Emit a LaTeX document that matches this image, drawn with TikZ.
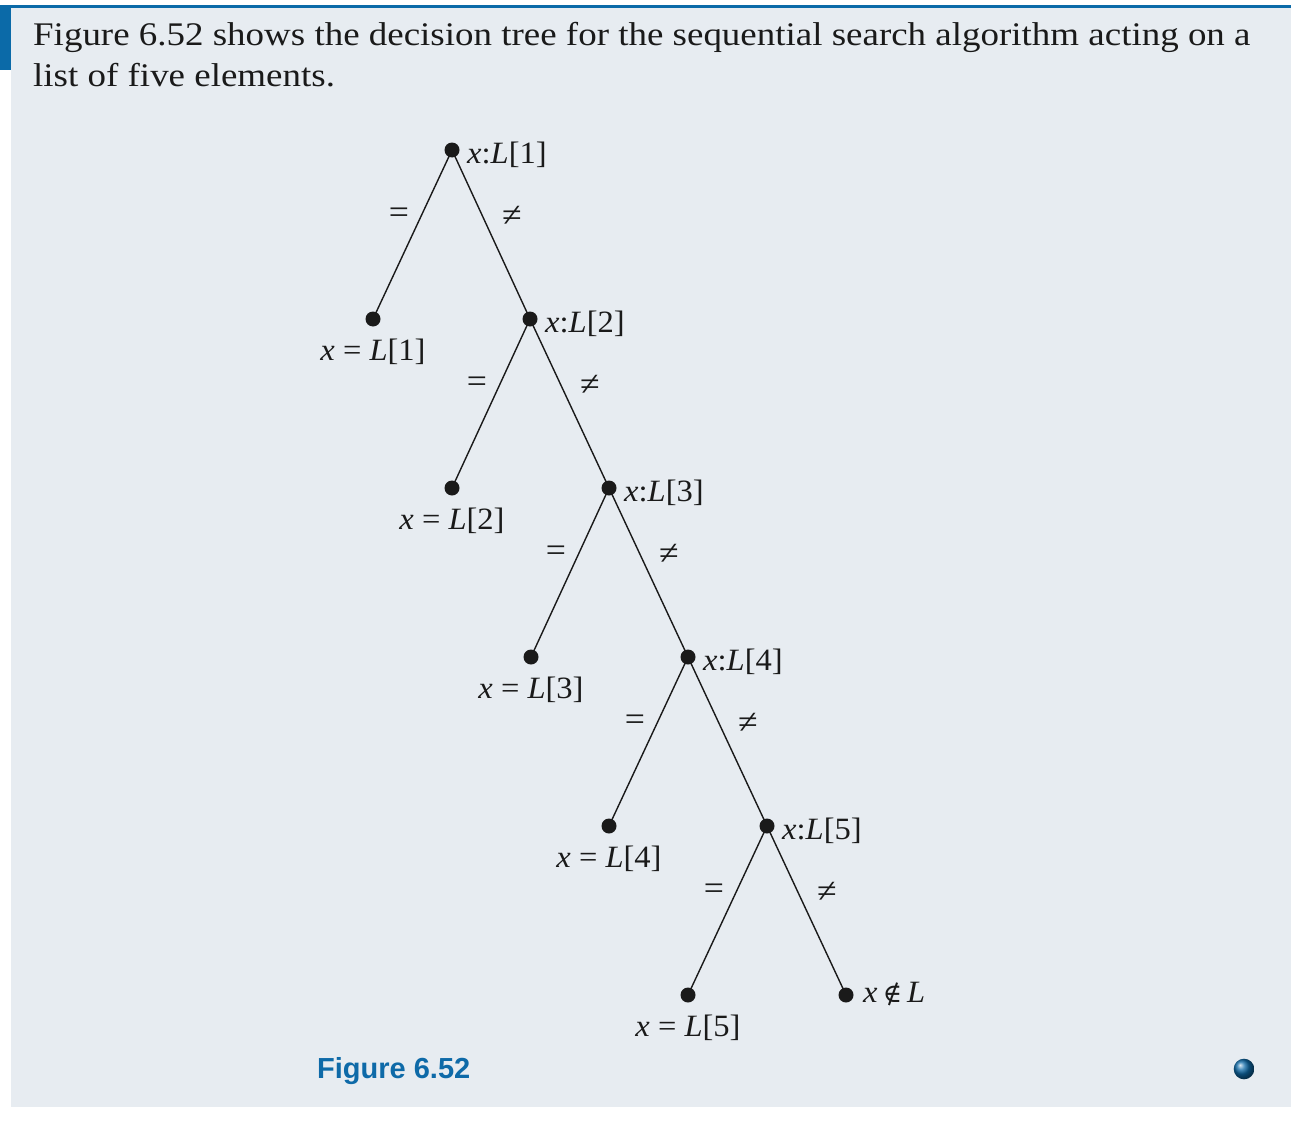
\documentclass[tikz,border=0pt]{standalone}
\usepackage{fontspec}
\setmainfont{Liberation Serif}
\newfontfamily\widefont[FakeStretch=1.12]{Liberation Serif}
\newfontfamily\treefont[FakeStretch=1.05]{Liberation Serif}
\newfontfamily\symfont{DejaVu Serif}
\newfontfamily\capfont{Liberation Sans}
\definecolor{panel}{HTML}{E7ECF1}
\definecolor{bluebar}{HTML}{0B6AA8}
\definecolor{capblue}{HTML}{0E6AA8}
\definecolor{ink}{HTML}{1A1A1A}
\begin{document}
\begin{tikzpicture}[x=1pt,y=-1pt,
  dot/.style={circle,fill=ink,inner sep=0pt,minimum size=15pt},
  edge/.style={draw=ink,line width=1.4pt},
  lbl/.style={inner sep=0pt,font=\treefont\fontsize{31}{36}\selectfont,text=ink},
  elbl/.style={inner sep=0pt,font=\treefont\fontsize{34}{38}\selectfont,text=ink},
  title/.style={inner sep=0pt,anchor=base west,font=\widefont\fontsize{33}{38}\selectfont,text=ink}]
\useasboundingbox (0,0) rectangle (1304,1124);
% panel
\fill[panel] (11,8) rectangle (1291,1107);
\fill[bluebar] (0,5) rectangle (1291,8);
\fill[bluebar] (0,5) rectangle (11,70);
% title
\node[title] (t1) at (33,46) {Figure 6.52 shows the decision tree for the sequential search algorithm acting on a};
\node[title] (t2) at (33,87) {list of five elements.};
% tree nodes
\node[dot] (n1) at (452,150) {};
\node[dot] (n2) at (530,319) {};
\node[dot] (n3) at (609,488) {};
\node[dot] (n4) at (688,657) {};
\node[dot] (n5) at (767,826) {};
\node[dot] (e1) at (373,319) {};
\node[dot] (e2) at (452,488) {};
\node[dot] (e3) at (531,657) {};
\node[dot] (e4) at (609,826) {};
\node[dot] (e5) at (688,995) {};
\node[dot] (nf) at (846,995) {};
% edges
\foreach \p/\l/\r in {n1/e1/n2,n2/e2/n3,n3/e3/n4,n4/e4/n5,n5/e5/nf}{
  \draw[edge] (\p.center) -- (\l.center);
  \draw[edge] (\p.center) -- (\r.center);
}
% internal labels
\foreach \n/\k in {n1/1,n2/2,n3/3,n4/4,n5/5}{
  \node[lbl,anchor=base west] (t\n) at ([xshift=15pt,yshift=-13pt]\n.center) {\textit{x}:\textit{L}[\k]};
  \node[elbl] (eq\n) at ([xshift=-53pt,yshift=-66pt]\n.center) {=};
  \node[elbl] (ne\n) at ([xshift=60pt,yshift=-66pt]\n.center) {≠};
}
% leaf labels
\foreach \n/\k in {e1/1,e2/2,e3/3,e4/4,e5/5}{
  \node[lbl,anchor=base] (t\n) at ([yshift=-41pt]\n.center) {\textit{x} = \textit{L}[\k]};
}
\node[lbl,anchor=base west] (tnf) at ([xshift=17pt,yshift=-7pt]nf.center) {\textit{x}\,{\symfont\fontsize{26}{30}\selectfont ∉}\,\textit{L}};
% caption
\node[inner sep=0pt,anchor=base west,text=capblue,font=\capfont\bfseries\fontsize{29}{34}\selectfont] (cap) at (317,1078) {Figure 6.52};
% ball
\shade[ball color=capblue] (1244,1069) circle (10.3);
\end{tikzpicture}
\end{document}
